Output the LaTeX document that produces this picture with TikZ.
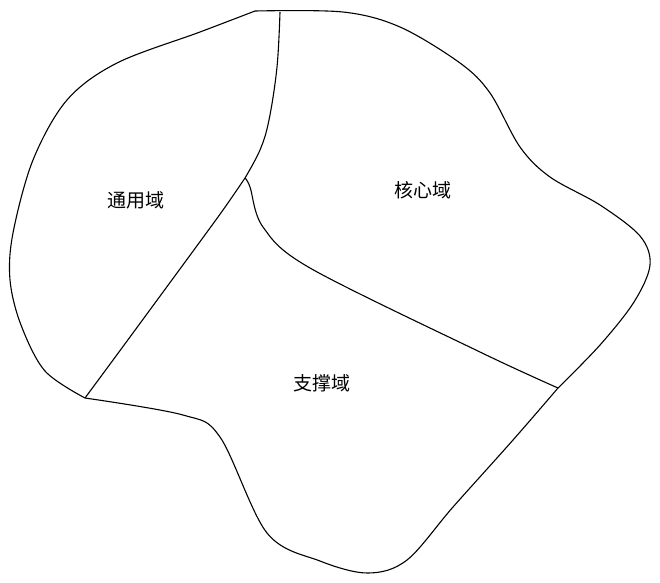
\documentclass[tikz,border=0pt]{standalone}
\usepackage{fontspec}
\newfontfamily\cjk{Noto Sans CJK SC}
\usepackage{tikz}

\begin{document}
\begin{tikzpicture}[x=1pt,y=-1pt,line width=1.1pt,
    area/.style={font=\cjk\fontsize{19}{19}\selectfont}]
    \useasboundingbox (0,0) rectangle (660,582);
    % junctions of the outline and the borders
    \coordinate (tl) at (255,11);
    \coordinate (tj) at (280,12);
    \coordinate (cj) at (245,178);
    \coordinate (rj) at (558,388);
    \coordinate (lj) at (85,398);
    % outline
    \draw plot[smooth,tension=0.55] coordinates {(tl) (343,12) (400,27) (460,63) (490,93) (520,147) (550,177) (600,205) (640,236) (650,265) (634,302) (600,345) (rj)};
    \draw plot[smooth,tension=0.55] coordinates {(rj) (513,440) (453,507) (407,560) (368,573) (320,561) (267,533) (220,437) (183,415) (lj)};
    \draw plot[smooth,tension=0.55] coordinates {(lj) (45,371) (21,325) (10,280) (13,233) (33,160) (67,100) (117,63) (200,32) (tl)};
    % borders
    \draw plot[smooth,tension=0.6] coordinates {(tj) (277,67) (269,120) (260,150) (cj)};
    \draw plot[smooth,tension=0.4] coordinates {(cj) (218,217) (130,337) (lj)};
    \draw plot[smooth,tension=0.55] coordinates {(cj) (250,187) (263,227) (310,268) (480,352) (rj)};
    \node[area] (general) at (136,200) {通用域};
    \node[area] (core) at (423,190) {核心域};
    \node[area] (support) at (322,383) {支撑域};
\end{tikzpicture}
\end{document}
